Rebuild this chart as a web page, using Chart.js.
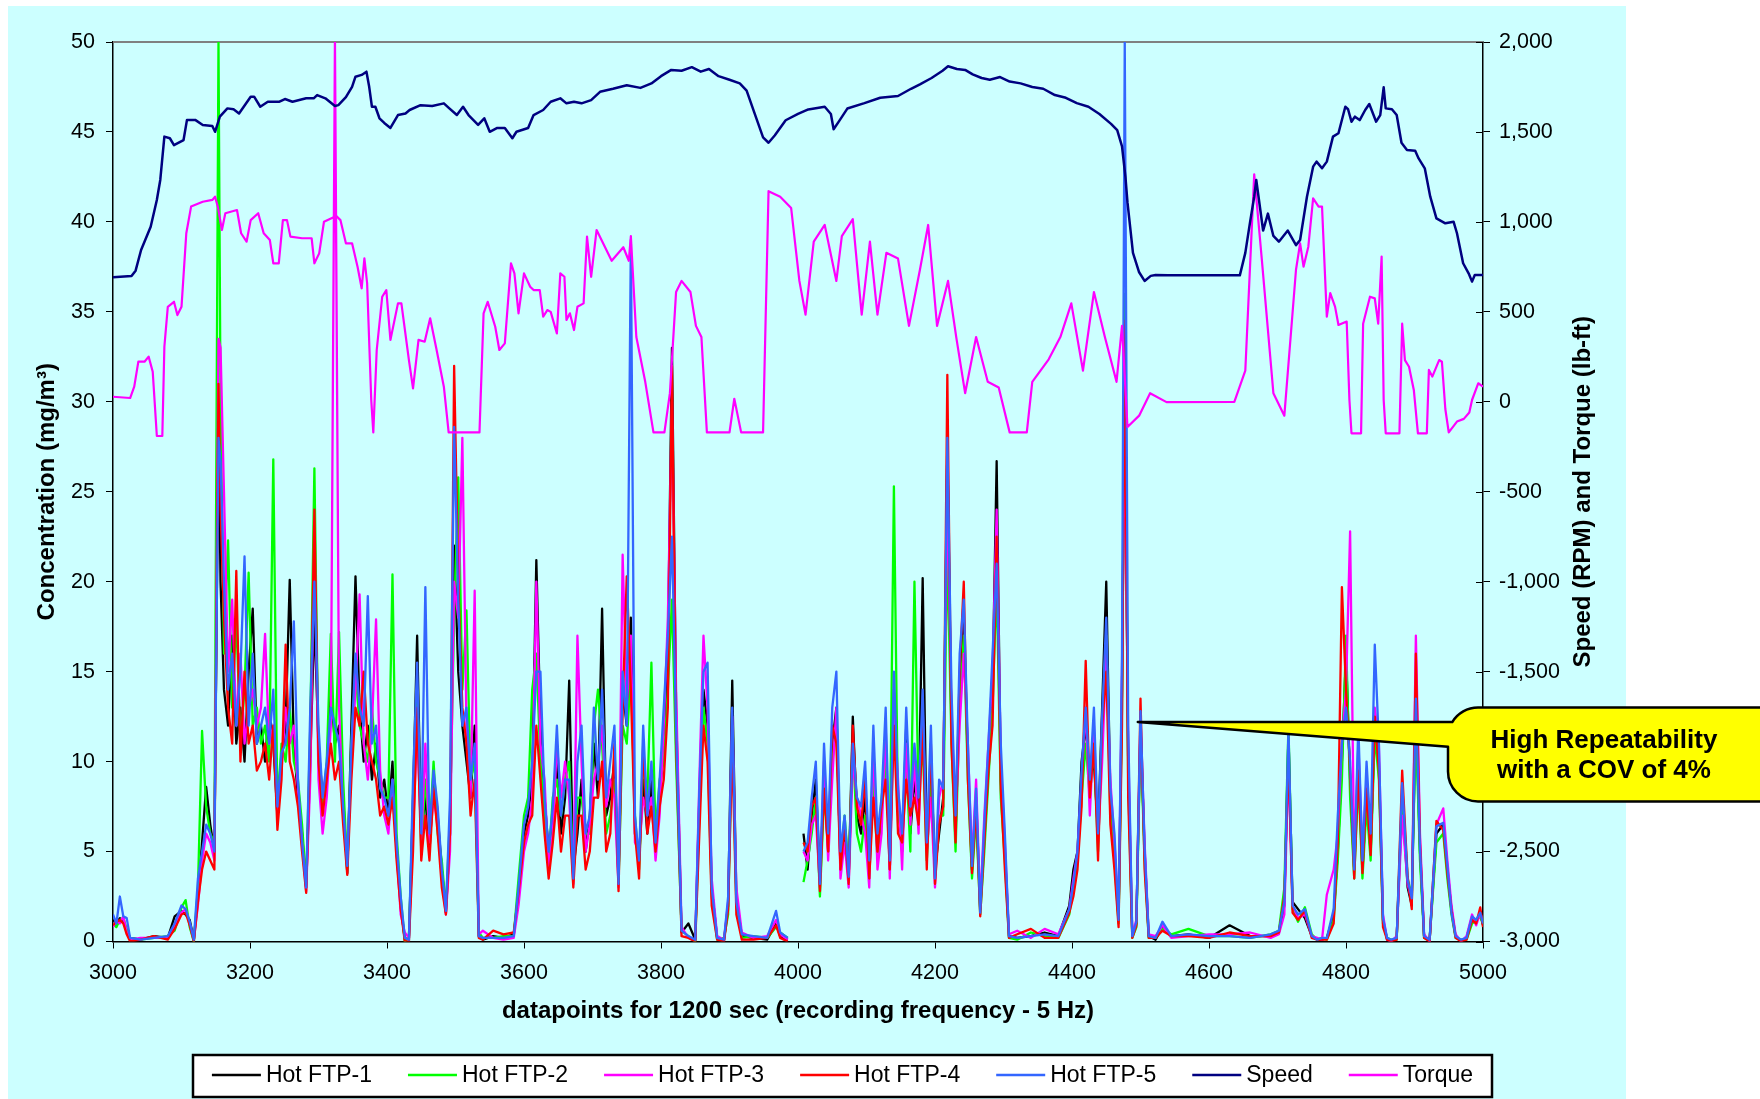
<!DOCTYPE html>
<html>
<head>
<meta charset="utf-8">
<title>Hot FTP repeatability</title>
<script src="https://cdn.jsdelivr.net/npm/chart.js@4.4.0/dist/chart.umd.min.js"></script>
<style>
  html, body { margin: 0; padding: 0; background: #fff; }
  #wrap { width: 1760px; height: 1099px; }
</style>
</head>
<body>
<div id="wrap"><canvas id="ftpChart" width="1760" height="1099"></canvas></div>
<script>
// datapoint index shared by the five Hot FTP runs
const emX = [
  3000, 3005, 3010, 3015, 3020, 3025, 3040, 3060, 3080, 3090,
  3100, 3106, 3112, 3118, 3124, 3130, 3136, 3142, 3148, 3154,
  3157, 3162, 3168, 3174, 3180, 3186, 3192, 3198, 3204, 3210,
  3216, 3222, 3228, 3234, 3240, 3246, 3252, 3258, 3264, 3270,
  3276, 3282, 3288, 3294, 3300, 3306, 3312, 3318, 3324, 3330,
  3336, 3342, 3348, 3354, 3360, 3366, 3372, 3378, 3384, 3390,
  3396, 3402, 3408, 3414, 3420, 3426, 3432, 3438, 3444, 3450,
  3456, 3462, 3468, 3474, 3480, 3486, 3492, 3498, 3504, 3510,
  3516, 3522, 3528, 3534, 3540, 3555, 3570, 3585, 3592, 3600,
  3606, 3612, 3618, 3624, 3630, 3636, 3642, 3648, 3654, 3660,
  3666, 3672, 3678, 3684, 3690, 3696, 3702, 3708, 3714, 3720,
  3726, 3732, 3738, 3744, 3750, 3756, 3762, 3768, 3774, 3780,
  3786, 3792, 3798, 3804, 3810, 3816, 3822, 3830, 3840, 3850,
  3856, 3862, 3868, 3874, 3882, 3892, 3898, 3904, 3910, 3918,
  3935, 3955, 3968, 3974, 3985, 4000, 4008, 4014, 4020, 4026,
  4032, 4038, 4044, 4050, 4056, 4062, 4068, 4074, 4080, 4086,
  4092, 4098, 4104, 4110, 4116, 4122, 4128, 4134, 4140, 4146,
  4152, 4158, 4164, 4170, 4176, 4182, 4188, 4194, 4200, 4206,
  4212, 4218, 4224, 4230, 4236, 4242, 4248, 4254, 4260, 4266,
  4272, 4278, 4284, 4290, 4296, 4302, 4308, 4320, 4340, 4360,
  4380, 4396, 4402, 4408, 4414, 4420, 4426, 4432, 4438, 4444,
  4450, 4456, 4462, 4468, 4473, 4477, 4482, 4488, 4494, 4500,
  4506, 4512, 4522, 4532, 4545, 4570, 4600, 4630, 4660, 4690,
  4702, 4710, 4716, 4722, 4730, 4740, 4750, 4758, 4765, 4772,
  4782, 4788, 4794, 4800, 4806, 4812, 4818, 4824, 4830, 4836,
  4842, 4848, 4854, 4860, 4866, 4874, 4882, 4890, 4896, 4902,
  4908, 4914, 4922, 4932, 4942, 4948, 4954, 4960, 4968, 4976,
  4984, 4990, 4996, 5000
];

// concentration, mg/m3
const ftp1 = [
  1.2, 1.0, 1.3, 1.1, 0.6, 0.2, 0.1, 0.3, 0.2, 1.4,
  1.7, 1.5, 1.2, 0.1, 2.5, 5.5, 8.6, 6.5, 5.0, 29,
  20, 14, 12, 17, 11, 13, 10, 15, 18.5, 11,
  12, 10, 13, 11, 7, 10, 12, 20.1, 11, 8,
  6, 3.0, 10, 18, 11, 8, 9.5, 14, 11, 12,
  8, 3.8, 12, 20.3, 13, 10, 12, 9, 11, 8,
  9, 7, 10, 5, 2.0, 0.1, 0.2, 8, 17, 6,
  8, 5, 9, 7, 4, 1.6, 6, 22, 15, 12,
  10, 8, 12, 0.3, 0.1, 0.3, 0.2, 0.4, 2.5, 6,
  7, 9, 21.2, 12, 8, 5, 7, 10, 6, 8,
  14.5, 4, 6, 9, 5, 7, 11, 8, 18.5, 7,
  8, 10, 3.5, 14, 12, 18, 6, 4.5, 9, 6,
  9, 5, 8, 11, 16, 33, 13, 0.5, 1.0, 0.1,
  8, 14, 12, 3, 0.2, 0.1, 2, 14.5, 2.5, 0.3,
  0.2, 0.1, 1.0, 0.3, 0.1, null, 6.0, 4.0, 7, 9,
  3.5, 9, 5, 11, 13, 4, 6, 3.5, 12.5, 7,
  6, 8, 4, 10, 5, 7, 11, 4, 14, 8,
  5, 12, 6, 9, 7, 20.2, 5, 10, 4, 6,
  8, 27.5, 12, 6, 14, 18, 10, 4, 8, 1.8,
  6, 10, 14, 26.7, 9, 5, 0.3, 0.2, 0.3, 0.5,
  0.3, 2, 4, 5, 10, 12, 9, 10, 6, 13,
  20, 8, 5, 1.2, 14, 31, 10, 0.3, 1.0, 12,
  5, 0.3, 0.1, 0.8, 0.3, 0.4, 0.2, 0.9, 0.3, 0.3,
  0.5, 2, 11.5, 2.2, 1.8, 1.3, 0.3, 0.1, 0.1, 0.2,
  1.5, 5, 10, 16, 9, 4, 10, 4, 8, 5,
  12, 10, 1.2, 0.1, 0.0, 0.2, 8, 3, 2, 13,
  5, 0.3, 0.0, 6, 6.5, 4, 1.8, 0.3, 0.0, 0.2,
  1.3, 1.1, 1.5, 0.9
];

const ftp2 = [
  1.0, 0.8, 1.2, 1.3, 0.7, 0.2, 0.1, 0.2, 0.3, 0.6,
  1.9, 2.3, 0.8, 0.0, 3.0, 11.7, 7.5, 6.0, 5.5, 50,
  30, 16, 22.3, 13, 18, 11, 14, 20.5, 12, 13,
  11, 12, 10, 26.8, 7.5, 11, 10, 13, 10, 9,
  6.5, 3.2, 12, 26.3, 10, 7.5, 10, 17.1, 10, 17.2,
  9, 4.0, 11, 15, 12, 11, 10, 13, 10, 9,
  8, 8, 20.4, 6, 2.5, 0.0, 0.3, 7, 14, 5,
  9, 6, 10, 6, 4.5, 1.8, 7, 18, 25.8, 14,
  18.4, 9, 10, 0.5, 0.2, 0.2, 0.3, 0.3, 3.5, 7,
  8, 14, 16, 10, 7, 4.5, 8, 9, 7, 9,
  10, 3.5, 8, 8, 6, 6, 12, 14, 11, 6,
  7, 9, 3.2, 12, 11, 15, 7, 4, 10, 8,
  15.5, 6, 9, 10, 14, 19, 10, 0.6, 0.3, 0.0,
  7, 13, 11, 2.5, 0.1, 0.2, 1.5, 12, 2, 0.2,
  0.3, 0.2, 0.8, 0.5, 0.2, null, 3.3, 4.5, 6, 8,
  2.5, 8, 6, 10, 12, 4.5, 7, 4, 11, 6,
  5, 7, 3.5, 9, 4.5, 8, 10, 5, 25.3, 7,
  6, 10, 5, 20, 8, 11, 4.5, 9, 3.5, 7,
  7, 22, 11, 5, 13, 17, 9, 3.5, 7, 1.5,
  5, 9, 13, 20, 8, 4.5, 0.2, 0.1, 0.5, 0.3,
  0.2, 1.5, 3, 4.5, 8, 11, 8, 11, 5, 12,
  17, 7, 4.5, 1.0, 13, 36, 9, 0.2, 0.8, 11.5,
  4.5, 0.2, 0.2, 0.7, 0.4, 0.7, 0.3, 0.3, 0.2, 0.4,
  0.6, 3, 12, 1.8, 1.1, 1.9, 0.4, 0.1, 0.2, 0.1,
  1.2, 4.5, 9, 17, 8, 3.5, 9, 3.5, 7.5, 4.5,
  11.5, 9, 1.0, 0.2, 0.1, 0.1, 8.3, 3.5, 2.5, 12,
  4.5, 0.2, 0.1, 5.5, 6, 3.5, 1.5, 0.2, 0.1, 0.1,
  1.0, 1.2, 1.4, 1.0
];

const ftp3 = [
  0.8, 1.2, 1.0, 1.4, 0.5, 0.1, 0.2, 0.2, 0.2, 0.9,
  1.6, 1.8, 1.0, 0.1, 2.0, 4.5, 6.0, 5.5, 4.5, 33.5,
  33, 25, 15, 19, 12, 16, 11, 13, 14, 12,
  13, 17.1, 11, 12, 7, 9.5, 13, 11, 12, 8.5,
  5.5, 2.8, 9, 22.5, 9, 6, 8, 12, 50, 13,
  7, 4.5, 10, 14, 19.3, 11, 9, 12, 17.9, 9.5,
  7, 6, 9, 5, 1.5, 0.5, 0.2, 6, 12, 5.5,
  11, 5.5, 8, 6.5, 3.5, 1.5, 5, 20, 18, 28,
  12, 8, 19.5, 0.4, 0.6, 0.2, 0.1, 0.2, 2.0, 5,
  6, 8, 20, 11, 9, 4, 6, 11, 8, 10,
  8, 3.2, 17, 10, 5, 6.5, 9, 10, 12, 7.5,
  9, 8, 3.0, 21.5, 13, 17, 5.5, 5, 8, 7,
  8, 4.5, 7, 12, 18, 30, 14, 0.8, 0.2, 0.1,
  9, 17, 13, 3.5, 0.3, 0.1, 2.2, 12.5, 3, 0.5,
  0.2, 0.3, 1.2, 0.4, 0.1, null, 5.0, 4.5, 6.5, 7,
  3, 10, 4.5, 9, 13, 3.5, 5.5, 3, 10, 8,
  7, 6, 3, 11, 4, 6, 12, 3.5, 13, 9,
  4, 11, 6.5, 10, 6, 13, 5, 8, 3, 8,
  9, 25, 13, 6.5, 12, 16, 11, 4.5, 9, 2,
  7, 11, 15, 24, 10, 5.5, 0.4, 0.6, 0.2, 0.7,
  0.4, 1.8, 3.5, 5, 9, 13, 7, 12, 5.5, 10,
  16, 9, 5.5, 1.5, 15, 30, 11, 0.4, 1.2, 12.5,
  5.5, 0.4, 0.3, 0.9, 0.2, 0.3, 0.4, 0.4, 0.5, 0.2,
  0.4, 1.5, 10, 2, 1.3, 1.5, 0.3, 0.2, 0.1, 2.6,
  4, 6, 11, 14, 22.8, 4.5, 11, 5, 9, 5.5,
  13, 11, 1.5, 0.1, 0.0, 0.3, 7, 3.2, 2.2, 17,
  6, 0.4, 0.0, 6.5, 7.4, 4.5, 2, 0.4, 0.0, 0.3,
  1.5, 0.9, 1.6, 1.1
];

const ftp4 = [
  0.9, 1.1, 1.2, 1.0, 0.4, 0.0, 0.1, 0.3, 0.1, 0.7,
  1.5, 1.6, 0.9, 0.0, 2.2, 4.0, 5.0, 4.5, 4.0, 31,
  24, 18, 13, 11, 20.6, 10, 15, 11, 12, 9.5,
  10, 11, 9, 12, 6.2, 9, 16.5, 10, 9, 7.5,
  5, 2.7, 11, 24, 10, 7, 9, 11, 9, 10,
  6.5, 3.7, 9, 13, 12, 15, 11, 10, 9, 7,
  7.5, 6.5, 8, 4.5, 1.8, 0.0, 0.0, 5, 13, 4.5,
  7, 4.5, 8.5, 6, 3, 1.5, 6, 32, 20, 13,
  11, 7, 9, 0.2, 0.1, 0.6, 0.4, 0.5, 2.7, 5.5,
  6.5, 7, 12, 9, 6, 3.5, 5.5, 8, 5, 7,
  7, 3.0, 7, 7, 4, 5, 8, 8, 10, 5,
  6, 11, 2.8, 13, 20.3, 14, 6, 3.5, 11, 6,
  7.5, 5, 7.5, 9, 13, 32, 11, 0.3, 0.2, 0.0,
  6, 12, 10, 2, 0.1, 0.0, 1.8, 11, 1.5, 0.1,
  0.1, 0.2, 0.9, 0.2, 0.0, null, 5.5, 5.0, 7.5, 8,
  2.8, 8.5, 5, 12, 11, 4, 6.5, 3.2, 12, 7.5,
  6.5, 9, 3.5, 8, 5, 7.5, 9, 4, 12, 6,
  5.5, 9, 7, 8, 6.5, 12, 4, 11, 3.2, 6.5,
  7.5, 31.5, 11, 5.5, 15, 20, 9, 3.8, 7.5, 1.4,
  5.5, 9.5, 12, 22.5, 8.5, 4, 0.2, 0.4, 0.7, 0.2,
  0.2, 1.6, 2.5, 4, 7.5, 15.6, 8, 11, 4.5, 12,
  15, 6.5, 4, 0.8, 12, 34.5, 8, 0.2, 0.9, 13.5,
  4, 0.2, 0.2, 0.6, 0.3, 0.3, 0.2, 0.5, 0.3, 0.3,
  0.5, 2.5, 10.5, 1.6, 1.2, 1.7, 0.2, 0.1, 0.1, 0.1,
  1, 5.5, 19.7, 14, 9.5, 3.5, 9.5, 3.8, 8.5, 4.8,
  12.5, 9.5, 0.8, 0.1, 0.0, 0.1, 9.5, 3.6, 1.8, 16,
  5.5, 0.2, 0.0, 6.7, 6.2, 3.8, 1.7, 0.2, 0.0, 0.1,
  1.2, 1.0, 1.9, 0.8
];

const ftp5 = [
  1.5, 1.0, 2.5, 1.4, 1.3, 0.2, 0.1, 0.2, 0.3, 1.0,
  2.0, 1.8, 1.1, 0.1, 3.5, 5.0, 6.5, 6.0, 5.0, 28,
  26.7, 20, 14, 16, 12, 15, 21.4, 12, 16, 11,
  12, 13, 11, 14, 7.5, 10.5, 11, 13, 17.8, 9,
  5.5, 3.0, 13, 20, 12, 8, 10, 13, 12, 11,
  7.5, 4.2, 11, 16, 13, 12, 19.2, 11, 12, 8.5,
  8, 7, 9, 5.5, 2.5, 0.2, 0.1, 9, 15.5, 6,
  19.7, 6, 9.5, 7.5, 4, 1.7, 8, 28.6, 19, 12,
  13, 9, 11, 0.3, 0.2, 0.2, 0.2, 0.3, 3.0, 6.5,
  7.5, 10, 15, 15, 8, 5, 7.5, 12, 7, 9,
  9, 3.5, 10, 12, 6, 7, 13, 9, 14, 8,
  10, 12, 3.2, 15, 12, 39, 7, 4.5, 12, 7,
  10, 5.5, 9, 13, 17, 22.5, 12, 0.6, 0.3, 0.1,
  8.5, 15, 15.5, 3, 0.2, 0.1, 2.5, 13, 2.2, 0.4,
  0.3, 0.2, 1.7, 0.5, 0.2, null, 5.0, 5.5, 8, 10,
  3.2, 11, 6, 13, 15, 5, 7, 3.6, 11, 8,
  7.5, 10, 4.5, 12, 6, 8, 13, 4.5, 15, 8.5,
  6, 13, 7.5, 11, 8, 14, 5.5, 12, 3.5, 9,
  8.5, 28, 14, 7, 16, 19, 11, 4.2, 8.5, 1.6,
  6.5, 11, 16, 21, 11, 6, 0.3, 0.2, 0.3, 0.4,
  0.3, 1.8, 3.2, 5, 9.5, 13, 9, 13, 6, 12.5,
  18, 8.5, 6, 1.2, 16, 50, 12, 0.3, 1.1, 12.8,
  5.2, 0.3, 0.2, 1.1, 0.3, 0.4, 0.3, 0.3, 0.2, 0.4,
  0.6, 2.2, 11.8, 2, 1.5, 1.8, 0.3, 0.1, 0.2, 0.2,
  1.8, 7, 11, 13, 10, 4, 12, 4.5, 10, 6,
  16.5, 11, 1.3, 0.2, 0.1, 0.2, 8.8, 3.4, 2.4, 13.5,
  5.2, 0.3, 0.1, 6.4, 6.6, 4.2, 1.6, 0.3, 0.1, 0.2,
  1.4, 1.2, 1.6, 1.0
];

// engine speed, RPM
const speedX = [
  3000, 3027, 3033, 3041, 3055, 3064, 3069, 3075, 3083, 3089,
  3103, 3108, 3120, 3131, 3145, 3149, 3156, 3167, 3176, 3184,
  3201, 3206, 3215, 3226, 3243, 3251, 3262, 3282, 3293, 3298,
  3310, 3324, 3329, 3340, 3349, 3354, 3363, 3370, 3374, 3378,
  3383, 3389, 3396, 3405, 3416, 3427, 3433, 3449, 3466, 3483,
  3491, 3502, 3511, 3519, 3533, 3542, 3550, 3561, 3572, 3583,
  3589, 3606, 3614, 3628, 3639, 3653, 3662, 3673, 3684, 3698,
  3711, 3730, 3750, 3770, 3786, 3800, 3815, 3830, 3845, 3858,
  3870, 3884, 3900, 3915, 3925, 3936, 3949, 3957, 3966, 3982,
  4000, 4015, 4039, 4048, 4052, 4060, 4072, 4097, 4120, 4146,
  4165, 4178, 4195, 4211, 4219, 4232, 4244, 4255, 4268, 4280,
  4295, 4309, 4325, 4342, 4358, 4375, 4391, 4407, 4424, 4440,
  4457, 4466, 4473, 4478, 4481, 4489, 4498, 4506, 4515, 4522,
  4540, 4580, 4620, 4645, 4653, 4660, 4666, 4669, 4679, 4686,
  4694, 4702, 4715, 4727, 4733, 4743, 4752, 4757, 4765, 4772,
  4781, 4789, 4799, 4803, 4808, 4813, 4820, 4828, 4834, 4844,
  4850, 4855, 4858, 4867, 4874, 4881, 4889, 4901, 4906, 4915,
  4923, 4932, 4945, 4957, 4962, 4971, 4979, 4984, 4988, 5000
];
const speedRpm = [
  692, 699, 729, 844, 973, 1122, 1233, 1474, 1465, 1427,
  1455, 1567, 1567, 1539, 1533, 1501, 1585, 1631, 1626, 1603,
  1696, 1696, 1640, 1668, 1668, 1683, 1668, 1687, 1687, 1705,
  1687, 1644, 1649, 1693, 1751, 1807, 1817, 1835, 1751, 1640,
  1640, 1576, 1550, 1522, 1594, 1603, 1622, 1649, 1644, 1659,
  1631, 1594, 1640, 1594, 1539, 1576, 1501, 1522, 1522, 1465,
  1501, 1522, 1594, 1622, 1668, 1687, 1659, 1668, 1659, 1677,
  1723, 1740, 1760, 1745, 1770, 1810, 1845, 1840, 1860, 1835,
  1850, 1810, 1790, 1770, 1730, 1610, 1470, 1440, 1480, 1565,
  1600, 1625, 1640, 1600, 1515, 1560, 1630, 1660, 1690, 1700,
  1740, 1765, 1800, 1840, 1865, 1850, 1845, 1820, 1800, 1790,
  1805, 1780, 1770, 1750, 1740, 1705, 1690, 1660, 1640, 1600,
  1545, 1510, 1420, 1250, 1108, 828, 720, 672, 700, 705,
  703, 703, 703, 703, 828, 1000, 1140, 1233, 952, 1046,
  922, 890, 952, 871, 899, 1140, 1307, 1335, 1298, 1335,
  1474, 1493, 1640, 1626, 1557, 1585, 1566, 1622, 1655, 1557,
  1594, 1748, 1631, 1626, 1594, 1440, 1400, 1396, 1353, 1298,
  1140, 1020, 992, 1001, 937, 770, 714, 668, 705, 705
];

// engine torque, lb-ft
const torqueX = [
  3000, 3025, 3031, 3037, 3046, 3052, 3058, 3064, 3072, 3075,
  3080, 3089, 3094, 3100, 3107, 3114, 3131, 3145, 3149, 3153,
  3159, 3164, 3181, 3187, 3195, 3201, 3212, 3220, 3229, 3234,
  3242, 3248, 3254, 3259, 3276, 3290, 3294, 3301, 3308, 3326,
  3332, 3340, 3349, 3357, 3363, 3367, 3371, 3377, 3380, 3385,
  3393, 3399, 3405, 3416, 3421, 3432, 3438, 3446, 3455, 3463,
  3472, 3483, 3490, 3535, 3541, 3547, 3558, 3564, 3572, 3581,
  3586, 3592, 3600, 3609, 3614, 3623, 3628, 3634, 3639, 3648,
  3653, 3659, 3662, 3667, 3673, 3678, 3687, 3692, 3698, 3706,
  3728, 3745, 3753, 3756, 3764, 3777, 3789, 3805, 3813, 3822,
  3830, 3843, 3851, 3859, 3867, 3900, 3907, 3917, 3949, 3957,
  3974, 3990, 4002, 4011, 4023, 4039, 4056, 4064, 4080, 4093,
  4105, 4116, 4129, 4146, 4162, 4178, 4190, 4203, 4219, 4231,
  4244, 4260, 4277, 4293, 4309, 4334, 4342, 4366, 4383, 4399,
  4416, 4432, 4448, 4465, 4473, 4481, 4498, 4514, 4538, 4637,
  4653, 4666, 4677, 4694, 4710, 4727, 4733, 4738, 4745, 4752,
  4760, 4765, 4772, 4777, 4784, 4789, 4801, 4805, 4808, 4822,
  4825, 4835, 4842, 4847, 4852, 4855, 4858, 4878, 4882, 4886,
  4892, 4899, 4905, 4918, 4921, 4926, 4936, 4940, 4945, 4950,
  4962, 4972, 4980, 4984, 4993, 5000
];
const torqueLbft = [
  28, 21, 84, 223, 223, 251, 167, -190, -190, 306,
  528, 556, 482, 528, 937, 1085, 1112, 1122, 1140, 1085,
  955, 1048, 1066, 937, 890, 1010, 1048, 937, 899, 770,
  770, 1010, 1010, 918, 909, 909, 770, 825, 1001, 1033,
  1010, 881, 881, 751, 631, 797, 659, 10, -170, 288,
  584, 621, 344, 547, 547, 232, 75, 344, 334, 464,
  296, 84, -170, -170, 492, 556, 417, 288, 325, 770,
  714, 492, 714, 640, 621, 621, 473, 510, 500, 380,
  714, 695, 455, 492, 399, 528, 547, 918, 695, 955,
  784, 859, 784, 921, 360, 111, -170, -170, 48, 610,
  672, 610, 422, 360, -170, -170, 17, -170, -170, 1171,
  1140, 1077, 672, 485, 890, 983, 672, 921, 1015, 485,
  890, 485, 828, 796, 422, 734, 983, 422, 672, 360,
  48, 360, 111, 80, -170, -170, 111, 236, 360, 547,
  173, 610, 360, 111, 422, -140, -77, 48, -2, 0,
  173, 1264, 796, 48, -77, 734, 881, 751, 862, 1131,
  1085, 1085, 473, 604, 529, 427, 446, 10, -175, -175,
  434, 584, 575, 434, 807, 10, -175, -175, 434, 232,
  195, 66, -175, -175, 177, 140, 232, 223, -40, -170,
  -110, -95, -60, 10, 103, 84
];

const xTitle = 'datapoints for 1200 sec (recording frequency - 5 Hz)';
const yTitle = 'Concentration (mg/m³)';
const y1Title = 'Speed (RPM) and Torque (lb-ft)';
const calloutText = ['High Repeatability', 'with a COV of 4%'];
const calloutAt = [4496, 12.2];

const FONT = '"Liberation Sans", Arial, Helvetica, sans-serif';
Chart.defaults.font.family = FONT;
Chart.defaults.color = '#000';

const tickFont = { size: 21.5 };
const titleFont = { size: 24, weight: 'bold' };

function pts(xs, ys) {
  return xs.map((x, i) => ({ x: x, y: ys[i] }));
}

// cyan page, grey top edge of plot, inner half of right-axis ticks
const backdrop = {
  id: 'backdrop',
  beforeDraw(chart) {
    const ctx = chart.ctx;
    ctx.save();
    ctx.fillStyle = '#ffffff';
    ctx.fillRect(0, 0, chart.width, chart.height);
    ctx.fillStyle = '#ccffff';
    ctx.fillRect(8, 6, 1618, chart.height - 6);
    ctx.restore();
  },
  beforeDatasetsDraw(chart) {
    const { ctx, chartArea: a, scales } = chart;
    ctx.save();
    ctx.strokeStyle = '#808080';
    ctx.lineWidth = 2;
    ctx.beginPath();
    ctx.moveTo(a.left, a.top);
    ctx.lineTo(a.right, a.top);
    ctx.stroke();
    ctx.strokeStyle = '#000';
    ctx.lineWidth = 1;
    scales.y1.ticks.forEach(t => {
      const y = Math.round(scales.y1.getPixelForValue(t.value)) + 0.5;
      ctx.beginPath();
      ctx.moveTo(a.right - 7, y);
      ctx.lineTo(a.right, y);
      ctx.stroke();
    });
    ctx.restore();
  },
  // right-axis title reads bottom to top, as in Excel
  afterDraw(chart) {
    const { ctx, chartArea: a } = chart;
    ctx.save();
    ctx.translate(1583, (a.top + a.bottom) / 2);
    ctx.rotate(-Math.PI / 2);
    ctx.font = 'bold 24px ' + FONT;
    ctx.fillStyle = '#000';
    ctx.textAlign = 'center';
    ctx.textBaseline = 'middle';
    ctx.fillText(y1Title, 0, 0);
    ctx.restore();
  }
};

// boxed legend along the bottom
const legendBox = {
  id: 'legendBox',
  afterDraw(chart) {
    const ctx = chart.ctx;
    const box = { left: 193, top: 1055, right: 1492, bottom: 1097 };
    ctx.save();
    ctx.fillStyle = '#ffffff';
    ctx.fillRect(box.left, box.top, box.right - box.left, box.bottom - box.top);
    ctx.lineWidth = 2.5;
    ctx.strokeStyle = '#000';
    ctx.strokeRect(box.left, box.top, box.right - box.left, box.bottom - box.top);

    ctx.font = '23px ' + FONT;
    ctx.textBaseline = 'middle';
    ctx.textAlign = 'left';
    const sample = 49, gap = 5, spacing = 36;
    const items = chart.data.datasets.map(d => ({
      text: d.label, color: d.borderColor, w: ctx.measureText(d.label).width
    }));
    const total = items.reduce((s, it) => s + sample + gap + it.w, 0) + spacing * (items.length - 1);
    let x = (box.left + box.right) / 2 - total / 2;
    const y = 1075;
    items.forEach(it => {
      ctx.strokeStyle = it.color;
      ctx.lineWidth = 2.5;
      ctx.beginPath();
      ctx.moveTo(x, y);
      ctx.lineTo(x + sample, y);
      ctx.stroke();
      ctx.fillStyle = '#000';
      ctx.fillText(it.text, x + sample + gap, y + 1);
      x += sample + gap + it.w + spacing;
    });
    ctx.restore();
  }
};

// yellow callout pointing at the peak near 4500
const callout = {
  id: 'callout',
  afterDraw(chart) {
    const { ctx, scales } = chart;
    const px = scales.x.getPixelForValue(calloutAt[0]);
    const py = scales.y.getPixelForValue(calloutAt[1]);
    const L = 1448, T = 707.5, B = 801.5, R = 1800, r = 30;
    const cx = L + r, cy = T + r;
    const dy = Math.max(-r + 1, Math.min(r - 1, py - cy));
    const a0 = Math.atan2(dy, -Math.sqrt(r * r - dy * dy));
    ctx.save();
    ctx.beginPath();
    ctx.moveTo(px, py);
    ctx.arc(cx, cy, r, a0, -Math.PI / 2);
    ctx.lineTo(R, T);
    ctx.lineTo(R, B);
    ctx.lineTo(L + r, B);
    ctx.arc(L + r, B - r, r, Math.PI / 2, Math.PI);
    ctx.lineTo(L, 746.7);
    ctx.closePath();
    ctx.fillStyle = '#ffff00';
    ctx.fill();
    ctx.lineWidth = 2.5;
    ctx.strokeStyle = '#000';
    ctx.lineJoin = 'round';
    ctx.stroke();

    ctx.fillStyle = '#000';
    ctx.font = 'bold 26px ' + FONT;
    ctx.textAlign = 'center';
    ctx.textBaseline = 'alphabetic';
    ctx.fillText(calloutText[0], 1604, 748);
    ctx.fillText(calloutText[1], 1604, 778);
    ctx.restore();
  }
};

const ctx = document.getElementById('ftpChart').getContext('2d');
new Chart(ctx, {
  type: 'line',
  data: {
    datasets: [
      { label: 'Hot FTP-1', data: pts(emX, ftp1), borderColor: '#000000', borderWidth: 2.3, yAxisID: 'y', order: 6 },
      { label: 'Hot FTP-2', data: pts(emX, ftp2), borderColor: '#00ff00', borderWidth: 2.3, yAxisID: 'y', order: 5 },
      { label: 'Hot FTP-3', data: pts(emX, ftp3), borderColor: '#ff00ff', borderWidth: 2.3, yAxisID: 'y', order: 4 },
      { label: 'Hot FTP-4', data: pts(emX, ftp4), borderColor: '#ff0000', borderWidth: 2.3, yAxisID: 'y', order: 3 },
      { label: 'Hot FTP-5', data: pts(emX, ftp5), borderColor: '#3366ff', borderWidth: 2.3, yAxisID: 'y', order: 2 },
      { label: 'Speed', data: pts(speedX, speedRpm), borderColor: '#000080', borderWidth: 2.5, yAxisID: 'y1', order: 0 },
      { label: 'Torque', data: pts(torqueX, torqueLbft), borderColor: '#ff00ff', borderWidth: 2.2, yAxisID: 'y1', order: 1 }
    ]
  },
  options: {
    responsive: false,
    animation: false,
    devicePixelRatio: 1,
    events: [],
    spanGaps: false,
    layout: { padding: { top: 42, right: 160, bottom: 69, left: 0 } },
    elements: {
      point: { radius: 0, hoverRadius: 0 },
      line: { tension: 0, fill: false, borderJoinStyle: 'round' }
    },
    plugins: {
      legend: { display: false },
      tooltip: { enabled: false }
    },
    scales: {
      x: {
        type: 'linear',
        position: 'bottom',
        min: 3000,
        max: 5000,
        afterFit: s => { s.height = 88.5; },
        ticks: { stepSize: 200, autoSkip: false, maxRotation: 0, padding: 11.5, font: tickFont, color: '#000', callback: v => String(v) },
        grid: { drawOnChartArea: false, drawTicks: true, tickLength: 7, color: '#000', lineWidth: 1 },
        border: { display: true, color: '#000', width: 1.5 },
        title: { display: true, text: xTitle, font: titleFont, color: '#000', padding: { top: 0, bottom: 4.6 } }
      },
      y: {
        type: 'linear',
        position: 'left',
        min: 0,
        max: 50,
        afterFit: s => { s.width = 113; },
        ticks: { stepSize: 5, padding: 11, font: tickFont, color: '#000' },
        grid: { drawOnChartArea: false, drawTicks: true, tickLength: 7, color: '#000', lineWidth: 1 },
        border: { display: true, color: '#000', width: 1.5 },
        title: { display: true, text: yTitle, font: titleFont, color: '#000', padding: { top: 32.6, bottom: 0 } }
      },
      y1: {
        type: 'linear',
        position: 'right',
        min: -3000,
        max: 2000,
        afterFit: s => { s.width = 117; },
        ticks: { stepSize: 500, padding: 9, font: tickFont, color: '#000', callback: v => v.toLocaleString('en-US') },
        grid: { drawOnChartArea: false, drawTicks: true, tickLength: 7, color: '#000', lineWidth: 1 },
        border: { display: true, color: '#000', width: 1.5 },
        title: { display: false }
      }
    }
  },
  plugins: [backdrop, legendBox, callout]
});
</script>
</body>
</html>
